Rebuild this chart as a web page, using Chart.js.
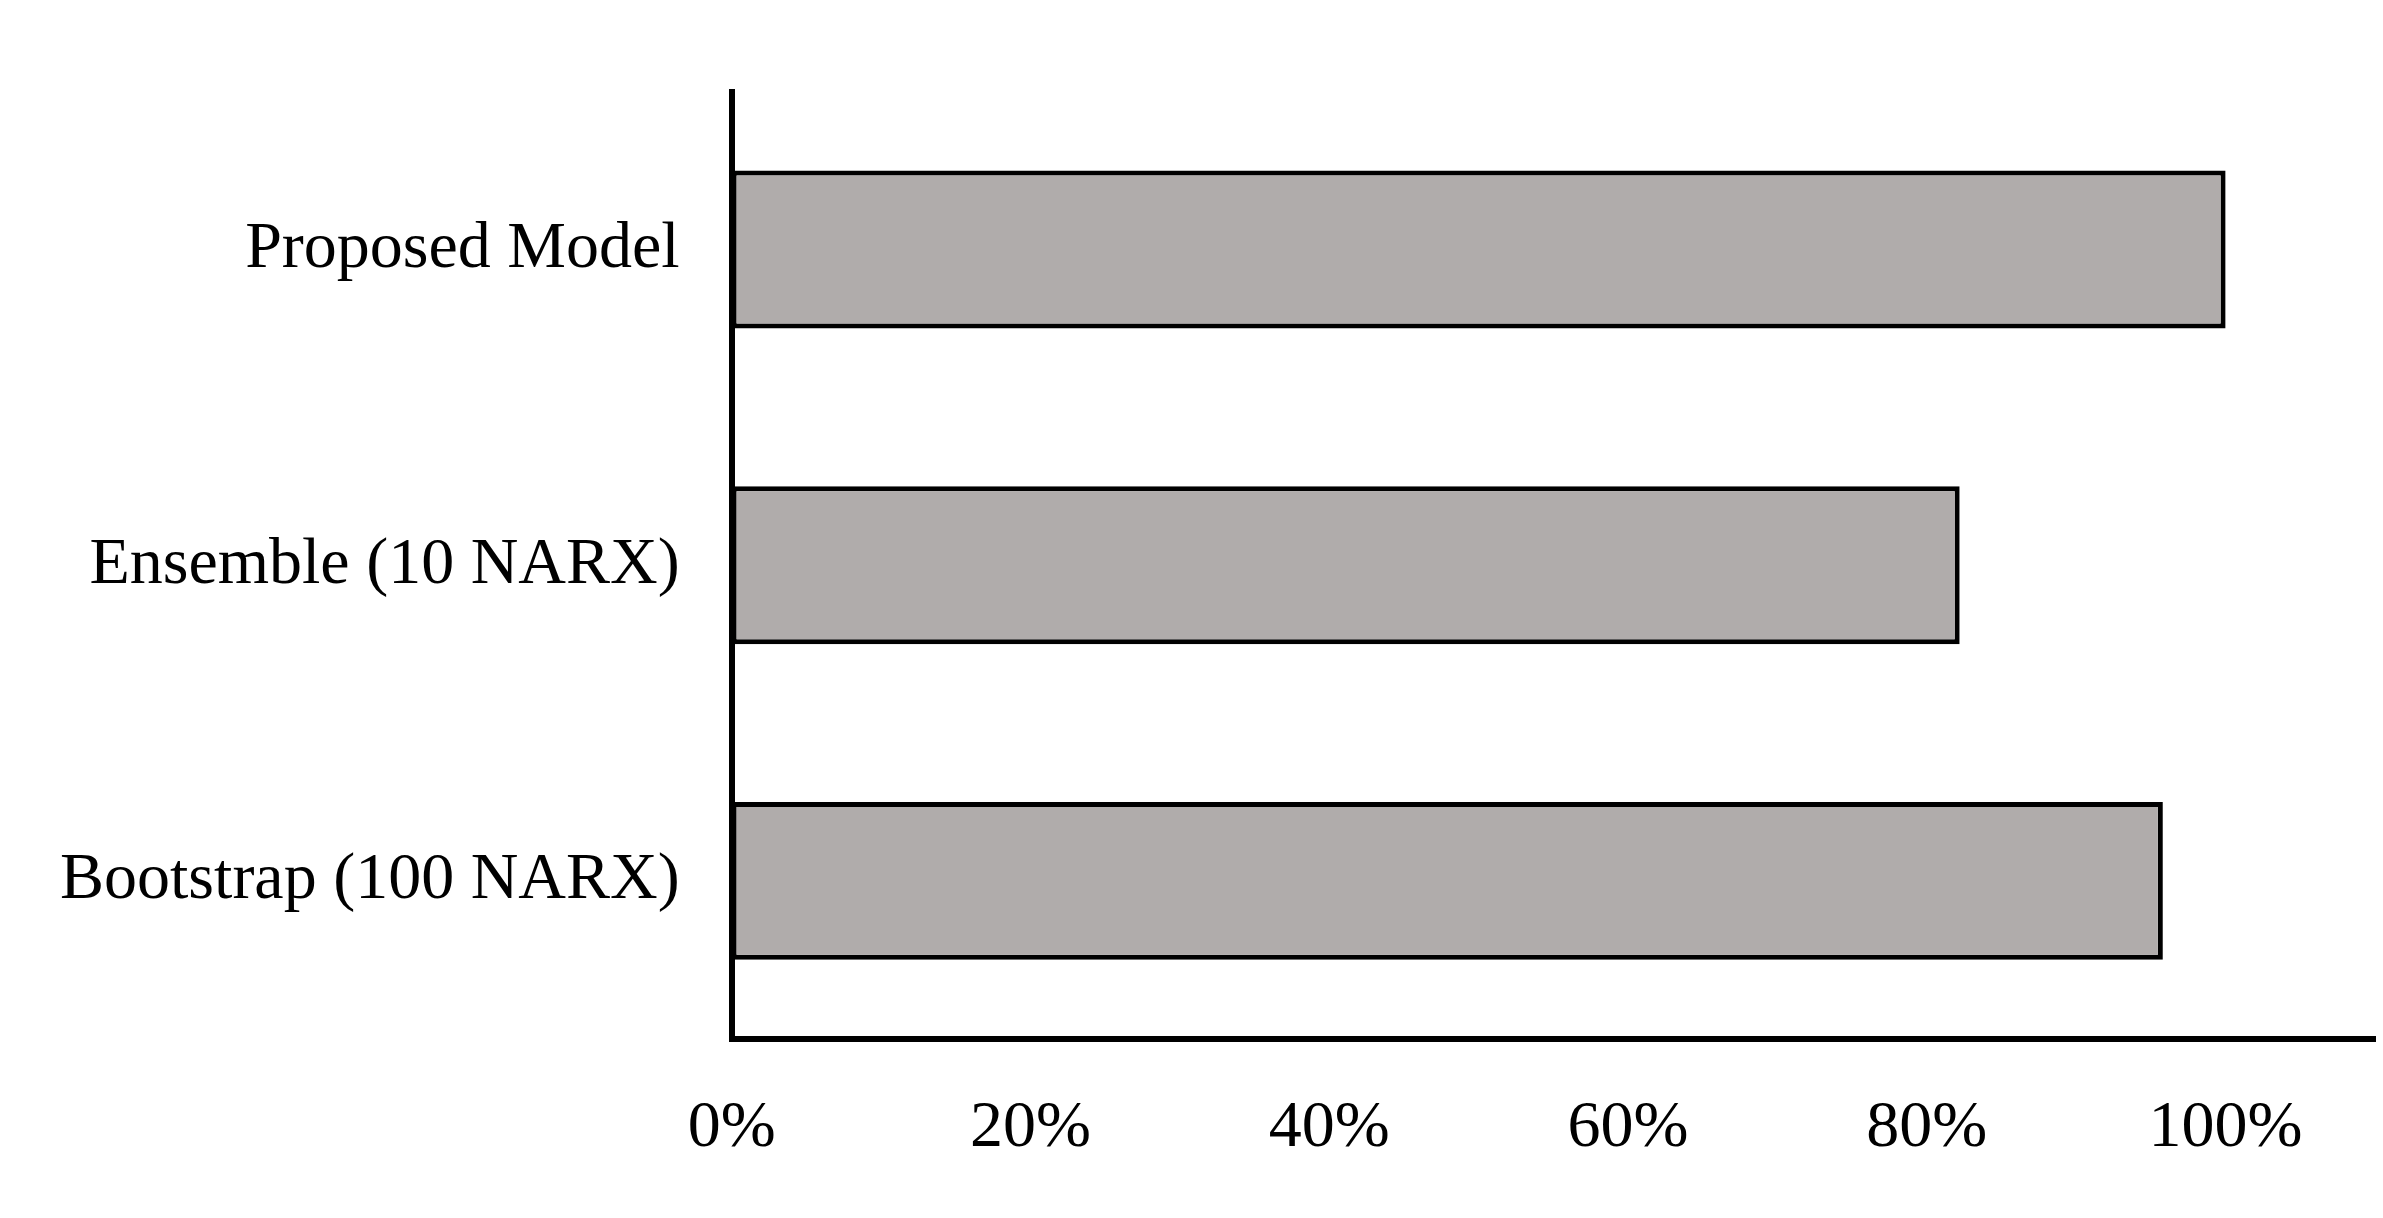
<!DOCTYPE html>
<html>
<head>
<meta charset="utf-8">
<script src="https://cdn.jsdelivr.net/npm/chart.js@4"></script>
<style>
  html, body { margin: 0; padding: 0; background: #fff; }
  #wrap { width: 2383px; height: 1218px; }
</style>
</head>
<body>
<div id="wrap"><canvas id="chart"></canvas></div>
<script>
// categories and values (percent)
const categories = ["Proposed Model", "Ensemble (10 NARX)", "Bootstrap (100 NARX)"];
const values = [100, 82.2, 95.8];
const tickValues = [0, 20, 40, 60, 80, 100];

const ctx = document.getElementById("chart").getContext("2d");
const chart = new Chart(ctx, {
   type: "bar",
   data: {
      labels: categories,
      datasets: [
         {
            data: values,
            backgroundColor: "#b0acab",
            borderColor: "#000",
            borderWidth: 5,
            borderSkipped: false,
            barPercentage: 0.5,
            categoryPercentage: 1,
         },
      ],
   },
   options: {
      indexAxis: "y",
      responsive: true,
      maintainAspectRatio: false,
      animation: false,
      layout: { padding: { top: -48, right: 8, bottom: 0, left: 8 } },
      plugins: { legend: { display: false }, tooltip: { enabled: false } },
      scales: {
         x: {
            min: 0,
            max: 110,
            afterBuildTicks: (axis) => {
               axis.ticks = tickValues.map((v) => ({ value: v }));
            },
            grid: { display: false, drawTicks: false },
            border: { color: "#000", width: 6 },
            ticks: {
               padding: 50,
               color: "#000",
               font: { family: "Liberation Serif", size: 66 },
               callback: (v) => v + "%",
            },
         },
         y: {
            grid: { display: false, drawTicks: false },
            border: { color: "#000", width: 6 },
            ticks: {
               padding: 52,
               color: "#000",
               font: { family: "Liberation Serif", size: 66 },
            },
         },
      },
   },
});
</script>
</body>
</html>
